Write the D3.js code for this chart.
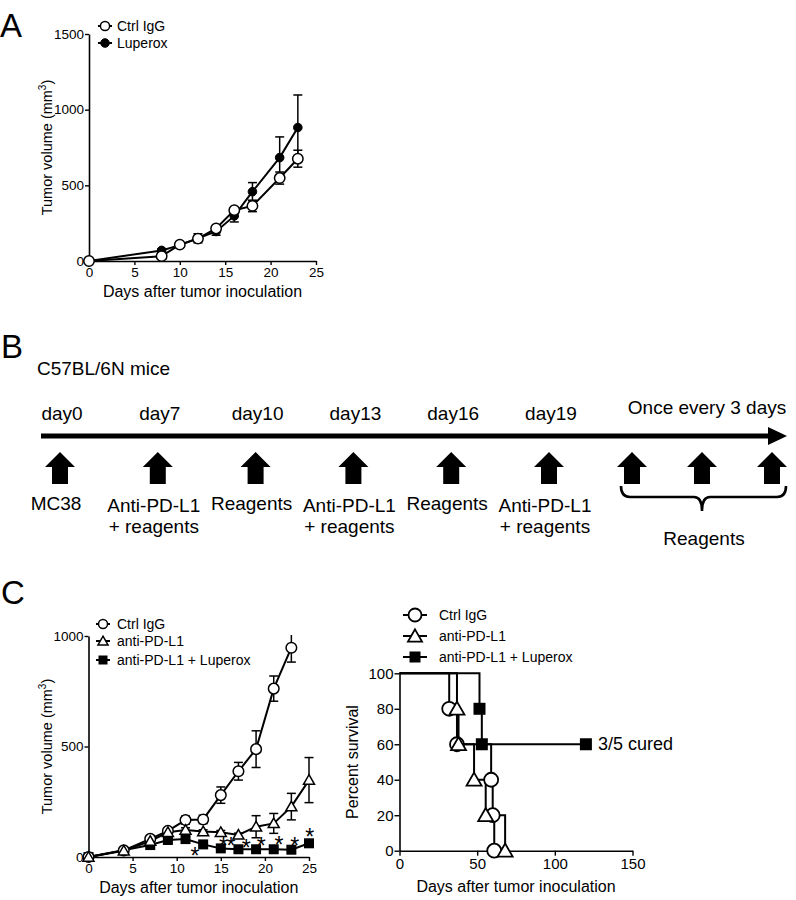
<!DOCTYPE html>
<html><head><meta charset="utf-8">
<script src="https://cdn.jsdelivr.net/npm/d3@7"></script>
<style>
body{margin:0;background:#fff}
svg{display:block}
text{font-family:"Liberation Sans",Arial,Helvetica,sans-serif;fill:#000}
</style>
</head><body>
<svg id="c" width="796" height="900"></svg>
<script>
// ---------- DATA ----------
// Panel A
const aDays = [0, 8, 10, 12, 14, 16, 18, 21, 23];
const aCtrl = [0, 32, 108, 148, 215, 336, 364, 548, 676];
const aCtrlErr = [0, 8, 10, 15, 15, 15, 38, 40, 56];
const aLup = [0, 70, 105, 150, 195, 298, 458, 683, 882];
const aLupErr = [0, 10, 10, 30, 25, 40, 60, 137, 215];
const aXTicks = [0, 5, 10, 15, 20, 25];
const aYTicks = [0, 500, 1000, 1500];
const aLegend = ["Ctrl IgG", "Luperox"];

// Panel B
const bEvents = ["day0", "day7", "day10", "day13", "day16", "day19"];
const bLabel1 = ["MC38", "Anti-PD-L1", "Reagents", "Anti-PD-L1", "Reagents", "Anti-PD-L1"];
const bLabel2 = ["", "+ reagents", "", "+ reagents", "", "+ reagents"];
const bRepeat = [1, 2, 3];
const bRepeatHeader = "Once every 3 days";
const bRepeatLabel = "Reagents";
const bStrain = "C57BL/6N mice";

// Panel C left (tumor volume)
const cCtrlDays = [0, 4, 7, 9, 11, 13, 15, 17, 19, 21, 23];
const cCtrl = [0, 30, 82, 118, 167, 170, 280, 388, 488, 762, 947];
const cCtrlErr = [0, 5, 8, 10, 18, 19, 37, 40, 83, 57, 65];
const cAntiDays = [0, 4, 7, 9, 11, 13, 15, 17, 19, 21, 23, 25];
const cAnti = [0, 28, 72, 112, 122, 115, 112, 100, 137, 152, 228, 348];
const cAntiErr = [0, 5, 8, 10, 10, 8, 8, 8, 50, 45, 60, 102];
const cLupDays = [0, 7, 9, 11, 13, 15, 17, 19, 21, 23, 25];
const cLup = [0, 54, 77, 81, 57, 39, 35, 35, 35, 33, 62];
const cLupErr = [0, 5, 8, 10, 6, 5, 4, 4, 5, 4, 8];
const cStarDays = [12, 15.65, 17.8, 19.5, 21.5, 23.3, 25];
const cStarVals = [28, 72, 65, 72, 76, 72, 115];
const cStarText = ["*", "**", "*", "*", "*", "*", "*"];
const cXTicks = [0, 5, 10, 15, 20, 25];
const cYTicks = [0, 500, 1000];
const cLegend = ["Ctrl IgG", "anti-PD-L1", "anti-PD-L1 + Luperox"];

// Panel C right (survival)
const sCtrlTimes = [0, 32, 37, 59, 60, 61];
const sCtrlSurv = [100, 80, 60, 40, 20, 0];
const sAntiTimes = [0, 37, 38, 48, 55.5, 68];
const sAntiSurv = [100, 80, 60, 40, 20, 0];
const sLupTimes = [0, 51.5, 53, 120];
const sLupSurv = [100, 80, 60, 60];
const sXTicks = [0, 50, 100, 150];
const sYTicks = [0, 20, 40, 60, 80, 100];
const sNote = "3/5 cured";

// ---------- HELPERS ----------
const svg = d3.select("#c");
const FONT = '"Liberation Sans",Arial,Helvetica,sans-serif';

function zip(xs, ys, es) { return xs.map((d, i) => ({x: d, y: ys[i], e: es ? es[i] : 0})); }

function circle(g, cx, cy, r, fill, sw) {
  g.append("circle").attr("cx", cx).attr("cy", cy).attr("r", r)
    .attr("fill", fill).attr("stroke", "#000").attr("stroke-width", sw);
}
function triangle(g, cx, cy, s, sw) {
  const h = s * 0.866;
  g.append("path").attr("d", `M${cx},${cy - h * 2 / 3}L${cx + s / 2},${cy + h / 3}L${cx - s / 2},${cy + h / 3}Z`)
    .attr("fill", "#fff").attr("stroke", "#000").attr("stroke-width", sw).attr("stroke-linejoin", "miter");
}
function square(g, cx, cy, s) {
  g.append("rect").attr("x", cx - s / 2).attr("y", cy - s / 2).attr("width", s).attr("height", s).attr("fill", "#000");
}

function drawAxes(g, x, y, xt, yt, fs, ytickSize, xpad) {
  const fmt = d3.format("d");
  const xa = d3.axisBottom(x).tickValues(xt).tickFormat(fmt).tickSize(ytickSize).tickSizeOuter(0).tickPadding(xpad);
  const ya = d3.axisLeft(y).tickValues(yt).tickFormat(fmt).tickSize(ytickSize).tickSizeOuter(0).tickPadding(1);
  const gx = g.append("g").attr("transform", `translate(0,${y(0)})`).call(xa);
  const gy = g.append("g").attr("transform", `translate(${x(0)},0)`).call(ya);
  [gx, gy].forEach(a => {
    a.selectAll("path.domain").attr("stroke", "#000").attr("stroke-width", 1.6);
    a.selectAll(".tick line").attr("stroke", "#000").attr("stroke-width", 1.4);
    a.selectAll("text").attr("font-size", fs).attr("font-family", FONT).attr("fill", "#000");
  });
}

function errBars(g, x, y, pts, cap) {
  pts.forEach(p => {
    if (!p.e) return;
    const xx = x(p.x), y1 = y(p.y + p.e), y2 = y(Math.max(0, p.y - p.e));
    g.append("line").attr("x1", xx).attr("x2", xx).attr("y1", y1).attr("y2", y2).attr("stroke", "#000").attr("stroke-width", 1.5);
    [y1, y2].forEach(yy => g.append("line").attr("x1", xx - cap).attr("x2", xx + cap).attr("y1", yy).attr("y2", yy).attr("stroke", "#000").attr("stroke-width", 1.5));
  });
}

function seriesLine(g, x, y, pts, curve) {
  const l = d3.line().x(d => x(d.x)).y(d => y(d.y));
  if (curve) l.curve(curve);
  g.append("path").attr("d", l(pts)).attr("fill", "none").attr("stroke", "#000").attr("stroke-width", 2).attr("stroke-linejoin", "miter");
}

function panelLetter(t, x, y) {
  svg.append("text").attr("x", x).attr("y", y).attr("font-size", 33).text(t);
}

// ---------- PANEL A ----------
panelLetter("A", 0, 37);
{
  const g = svg.append("g");
  const x = d3.scaleLinear().domain([0, 25]).range([89, 316]);
  const y = d3.scaleLinear().domain([0, 1500]).range([261, 34]);
  drawAxes(g, x, y, aXTicks, aYTicks, 13.5, 4, 2);
  const ctrl = zip(aDays, aCtrl, aCtrlErr), lup = zip(aDays, aLup, aLupErr);
  errBars(g, x, y, lup, 4.5);
  errBars(g, x, y, ctrl, 4.5);
  seriesLine(g, x, y, lup);
  seriesLine(g, x, y, ctrl);
  lup.forEach(p => circle(g, x(p.x), y(p.y), 4.3, "#000", 1));
  ctrl.forEach(p => circle(g, x(p.x), y(p.y), 5.2, "#fff", 1.5));
  g.append("text").attr("x", (x(0) + x(25)) / 2).attr("y", 297).attr("text-anchor", "middle").attr("font-size", 16).text("Days after tumor inoculation");
  const yt = g.append("text").attr("transform", `translate(52,${(y(0) + y(1500)) / 2}) rotate(-90)`).attr("text-anchor", "middle").attr("font-size", 14.5);
  yt.append("tspan").text("Tumor volume (mm");
  yt.append("tspan").attr("font-size", 10).attr("dy", -6).text("3");
  yt.append("tspan").attr("dy", 6).text(")");
  const ly = [26, 43];
  aLegend.forEach((t, i) => {
    g.append("line").attr("x1", 98).attr("x2", 112).attr("y1", ly[i]).attr("y2", ly[i]).attr("stroke", "#000").attr("stroke-width", 2);
    if (i === 0) circle(g, 105, ly[i], 4.6, "#fff", 1.5); else circle(g, 105, ly[i], 4.3, "#000", 1);
    g.append("text").attr("x", 117).attr("y", ly[i] + 5).attr("font-size", 14).text(t);
  });
}

// ---------- PANEL B ----------
panelLetter("B", 1, 358);
{
  const g = svg.append("g");
  g.append("text").attr("x", 37).attr("y", 375).attr("font-size", 19).text(bStrain);
  const px = d3.scalePoint().domain(bEvents).range([60, 549]);
  const rx = d3.scalePoint().domain(bRepeat).range([632, 772]);
  g.append("line").attr("x1", 41).attr("x2", 772).attr("y1", 436).attr("y2", 436).attr("stroke", "#000").attr("stroke-width", 5);
  g.append("path").attr("d", "M768,427L787,436L768,445Z").attr("fill", "#000");
  const arrow = cx => `M${cx - 15},467L${cx},452L${cx + 15},467L${cx + 8},467L${cx + 8},484L${cx - 8},484L${cx - 8},467Z`;
  bEvents.forEach((ev, i) => {
    const cx = px(ev);
    g.append("text").attr("x", cx + 2).attr("y", 420).attr("text-anchor", "middle").attr("font-size", 19).text(ev);
    g.append("path").attr("d", arrow(cx)).attr("fill", "#000");
    g.append("text").attr("x", cx - 4).attr("y", bLabel2[i] ? 512 : 510).attr("text-anchor", "middle").attr("font-size", 19).text(bLabel1[i]);
    if (bLabel2[i]) g.append("text").attr("x", cx - 4).attr("y", 533).attr("text-anchor", "middle").attr("font-size", 19).text(bLabel2[i]);
  });
  bRepeat.forEach(r => g.append("path").attr("d", arrow(rx(r))).attr("fill", "#000"));
  const mid = rx(bRepeat[1]);
  g.append("text").attr("x", mid + 5).attr("y", 414).attr("text-anchor", "middle").attr("font-size", 19).text(bRepeatHeader);
  const L = rx(bRepeat[0]) - 11, R = rx(bRepeat[2]) + 14;
  g.append("path").attr("d", `M${L},486Q${L},497 ${L + 9},497L${mid - 8},497Q${mid},497 ${mid},511Q${mid},497 ${mid + 8},497L${R - 9},497Q${R},497 ${R},486`)
    .attr("fill", "none").attr("stroke", "#000").attr("stroke-width", 2.6);
  g.append("text").attr("x", mid + 2).attr("y", 545).attr("text-anchor", "middle").attr("font-size", 19).text(bRepeatLabel);
}

// ---------- PANEL C LEFT ----------
panelLetter("C", 1, 604);
{
  const g = svg.append("g");
  const x = d3.scaleLinear().domain([0, 25]).range([88.5, 309]);
  const y = d3.scaleLinear().domain([0, 1000]).range([857, 636]);
  svg.append("clipPath").attr("id", "clipC").append("rect").attr("x", 60).attr("y", y(1000) - 1).attr("width", 300).attr("height", 260);
  drawAxes(g, x, y, cXTicks, cYTicks, 13.5, 4, 2);
  const p = g.append("g").attr("clip-path", "url(#clipC)");
  const ctrl = zip(cCtrlDays, cCtrl, cCtrlErr), anti = zip(cAntiDays, cAnti, cAntiErr), lup = zip(cLupDays, cLup, cLupErr);
  errBars(p, x, y, ctrl, 4.5);
  errBars(p, x, y, anti, 4.5);
  errBars(p, x, y, lup, 4.5);
  seriesLine(p, x, y, lup);
  seriesLine(p, x, y, anti);
  seriesLine(p, x, y, ctrl);
  lup.forEach(d => square(p, x(d.x), y(d.y), 10));
  ctrl.forEach(d => circle(p, x(d.x), y(d.y), 5.3, "#fff", 1.5));
  anti.forEach(d => triangle(p, x(d.x), y(d.y) + 1, 11, 1.5));
  cStarDays.forEach((d, i) => g.append("text").attr("x", x(d)).attr("y", y(cStarVals[i]) + 13).attr("text-anchor", "middle").attr("font-size", 23).attr("letter-spacing", -1.5).text(cStarText[i]));
  g.append("text").attr("x", (x(0) + x(25)) / 2).attr("y", 893).attr("text-anchor", "middle").attr("font-size", 16).text("Days after tumor inoculation");
  const yt = g.append("text").attr("transform", `translate(52,${(y(0) + y(1000)) / 2}) rotate(-90)`).attr("text-anchor", "middle").attr("font-size", 14.5);
  yt.append("tspan").text("Tumor volume (mm");
  yt.append("tspan").attr("font-size", 10).attr("dy", -6).text("3");
  yt.append("tspan").attr("dy", 6).text(")");
  const ly = [624, 641, 660];
  cLegend.forEach((t, i) => {
    g.append("line").attr("x1", 96).attr("x2", 110).attr("y1", ly[i]).attr("y2", ly[i]).attr("stroke", "#000").attr("stroke-width", 2);
    if (i === 0) circle(g, 103, ly[i], 4.5, "#fff", 1.5);
    else if (i === 1) triangle(g, 103, ly[i] + 1, 10, 1.5);
    else square(g, 103, ly[i], 9);
    g.append("text").attr("x", 117).attr("y", ly[i] + 5).attr("font-size", 14).text(t);
  });
}

// ---------- PANEL C RIGHT ----------
{
  const g = svg.append("g");
  const x = d3.scaleLinear().domain([0, 150]).range([399.5, 632.5]);
  const y = d3.scaleLinear().domain([0, 100]).range([850.7, 673.3]);
  drawAxes(g, x, y, sXTicks, sYTicks, 15, 5, 3);
  const ctrl = zip(sCtrlTimes, sCtrlSurv), anti = zip(sAntiTimes, sAntiSurv), lup = zip(sLupTimes, sLupSurv);
  seriesLine(g, x, y, ctrl, d3.curveStepAfter);
  seriesLine(g, x, y, anti, d3.curveStepAfter);
  seriesLine(g, x, y, lup, d3.curveStepAfter);
  ctrl.slice(1).forEach(d => circle(g, x(d.x), y(d.y), 7, "#fff", 1.8));
  anti.slice(1).forEach(d => triangle(g, x(d.x), y(d.y) + 1.5, 15, 1.8));
  lup.slice(1).forEach(d => square(g, x(d.x), y(d.y), 12));
  g.append("text").attr("x", 598).attr("y", y(60) + 6).attr("font-size", 18).text(sNote);
  g.append("text").attr("x", (x(0) + x(150)) / 2).attr("y", 892).attr("text-anchor", "middle").attr("font-size", 16).text("Days after tumor inoculation");
  g.append("text").attr("transform", `translate(358,${(y(0) + y(100)) / 2}) rotate(-90)`).attr("text-anchor", "middle").attr("font-size", 16).text("Percent survival");
  const ly = [615, 636, 657];
  cLegend.forEach((t, i) => {
    g.append("line").attr("x1", 403).attr("x2", 427).attr("y1", ly[i]).attr("y2", ly[i]).attr("stroke", "#000").attr("stroke-width", 2);
    if (i === 0) circle(g, 415, ly[i], 6.5, "#fff", 1.8);
    else if (i === 1) triangle(g, 415, ly[i] + 1.5, 14, 1.8);
    else square(g, 415, ly[i], 11);
    g.append("text").attr("x", 439).attr("y", ly[i] + 5).attr("font-size", 14).text(t);
  });
}
</script>
</body></html>
